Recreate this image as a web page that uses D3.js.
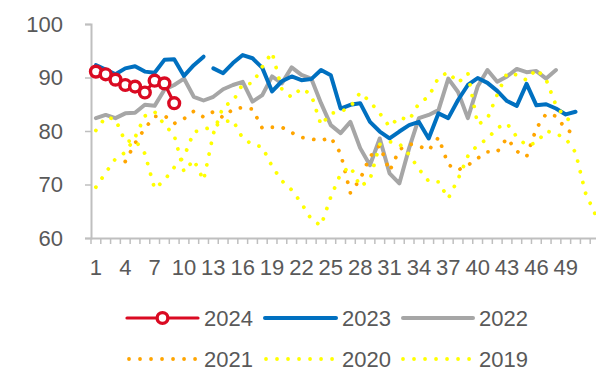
<!DOCTYPE html>
<html><head><meta charset="utf-8">
<script src="https://cdn.jsdelivr.net/npm/d3@7"></script>
<style>
html,body{margin:0;padding:0;background:#fff;}
svg{display:block;overflow:hidden;}
</style></head>
<body><svg id="c" width="596" height="372"></svg>
<script>
const weeks = d3.range(1, 53);
const xTickLabels = [1,4,7,10,13,16,19,22,25,28,31,34,37,40,43,46,49];
const yTicks = [60,70,80,90,100];
const seriesNames = ["2024","2023","2022","2021","2020","2019"];

const s2024 = [91.1,90.6,89.6,88.6,88.3,87.2,89.4,88.9,85.2];
const s2023 = [92.3,91.5,90.6,91.7,92.1,91.1,90.9,93.3,93.4,90.3,92.3,93.9,
  91.7,90.8,92.7,94.2,93.6,91.8,87.4,89.3,90.2,89.5,89.7,91.4,90.4,84.2,84.9,85.2,
  81.7,79.9,78.6,79.9,81.1,81.7,78.6,83.3,82.4,85.8,88.6,89.9,89.0,87.5,85.6,84.7,
  88.8,84.8,85.0,84.2,83.1,83.6];
const breaks2023 = [13]; // no segment drawn into week 13
const s2022 = [82.4,83.0,82.4,83.3,83.4,84.9,84.7,87.7,88.6,89.8,86.4,85.7,86.4,
  87.8,88.6,89.2,85.5,86.7,90.2,88.9,91.9,90.5,89.8,85.2,81.1,79.6,81.7,76.8,73.6,
  78.6,72.1,70.2,76.8,82.4,83.0,83.9,89.8,87.3,82.4,88.3,91.4,89.2,90.2,91.6,91.0,
  91.2,89.8,91.4];
const s2021 = [null,null,null,74.3,77.7,80.5,82.7,82.9,81.4,82.3,83.7,82.6,83.6,
  82.5,84.1,84.4,84.1,80.5,80.7,80.7,79.7,78.8,78.5,78.2,78.8,75.8,68.4,71.0,75.2,
  77.3,72.5,76.5,77.6,77.2,76.4,78.8,73.7,72.7,73.6,74.9,76.1,76.1,78.7,76.2,75.2,
  80.5,83.2,82.8,80.4,79.2];
const s2020 = [69.5,72.2,74.8,76.0,78.8,82.8,83.6,81.2,79.2,72.4,74.6,70.8,79.5,
  84.6,85.5,88.8,88.9,92.0,94.7,87.8,86.3,88.0,86.8,81.1,83.3,83.6,84.5,87.2,85.5,
  83.3,80.8,82.6,82.0,85.2,86.4,90.0,91.0,89.0,90.8,81.2,82.3,86.8,90.8,90.5,89.5,
  91.6,89.6,84.8,82.4,81.6];
const s2019 = [80.1,82.6,82.2,78.0,78.3,75.8,69.2,70.8,73.2,75.2,79.8,80.3,80.8,
  81.7,82.0,78.6,77.5,77.0,73.4,70.7,69.0,66.5,63.5,62.3,67.7,72.0,73.4,69.6,70.9,
  77.5,78.0,77.6,75.6,72.9,70.6,70.5,67.4,71.0,75.3,77.4,78.5,80.6,81.4,78.9,77.3,
  77.8,80.0,79.5,78.6,76.0,68.5,64.5];

const colors = {"2024":"#DA0A22","2023":"#0070C0","2022":"#A6A6A6","2021":"#FFA500","2020":"#FFFF00","2019":"#FFFF00"};
const font = "'Liberation Sans', Arial, sans-serif";
const txt = "#595959", axisCol = "#BFBFBF";

const svg = d3.select("#c");
const x = d3.scaleBand().domain(weeks).range([91, 600]).padding(0);
const cx = w => x(w) + x.bandwidth()/2;
const y = d3.scaleLinear().domain([60,100]).range([238,24]);

// y axis
const ya = svg.append("g").attr("transform","translate(91,0)")
  .call(d3.axisLeft(y).tickValues(yTicks).tickSize(6).tickPadding(22));
ya.select(".domain").attr("stroke",axisCol).attr("stroke-width",2);
ya.selectAll(".tick line").attr("stroke",axisCol).attr("stroke-width",1.5);
ya.selectAll("text").attr("font-family",font).attr("font-size",22).attr("fill",txt);

// x axis
const xa = svg.append("g").attr("transform","translate(0,238)")
  .call(d3.axisBottom(x).tickValues(xTickLabels).tickSize(0).tickPadding(21));
xa.select(".domain").attr("stroke",axisCol).attr("stroke-width",2);
xa.selectAll("text").attr("font-family",font).attr("font-size",22).attr("fill",txt);
svg.append("g").selectAll("line").data(weeks.concat([53])).join("line")
  .attr("x1",w => w<=52 ? x(w) : 600).attr("x2",w => w<=52 ? x(w) : 600)
  .attr("y1",238).attr("y2",244).attr("stroke",axisCol).attr("stroke-width",1.5);

const line = d3.line().defined(d => d.v != null).x(d => cx(d.w)).y(d => y(d.v));
const toPts = arr => arr.map((v,i) => ({w: i+1, v}));

function drawSeries(arr, color, opts, brks) {
  let pts = toPts(arr);
  let segs = [];
  if (brks && brks.length) {
    let start = 0;
    brks.forEach(b => { segs.push(pts.slice(start, b-1)); start = b-1; });
    segs.push(pts.slice(start));
  } else segs = [pts];
  segs.forEach(sg => {
    const p = svg.append("path").datum(sg).attr("d", line)
      .attr("fill","none").attr("stroke",color)
      .attr("stroke-width",opts.w).attr("stroke-linejoin","round").attr("stroke-linecap","round");
    if (opts.dot) p.attr("stroke-dasharray","0.01 11");
  });
}

drawSeries(s2022, colors["2022"], {w:4});
drawSeries(s2023, colors["2023"], {w:4}, breaks2023);
drawSeries(s2021, colors["2021"], {w:3.8, dot:true});
drawSeries(s2020, colors["2020"], {w:3.8, dot:true});
drawSeries(s2019, colors["2019"], {w:3.8, dot:true});
drawSeries(s2024, colors["2024"], {w:3.2});
svg.append("g").selectAll("circle").data(toPts(s2024)).join("circle")
  .attr("cx", d => cx(d.w)).attr("cy", d => y(d.v)).attr("r",5.4)
  .attr("fill","#fff").attr("stroke",colors["2024"]).attr("stroke-width",3.4);

// legend
const legendItems = [
  {name:"2024", x1:127, x2:198, tx:204, y:318, w:3.2, dot:false, marker:true},
  {name:"2023", x1:265, x2:336, tx:342, y:318, w:4, dot:false},
  {name:"2022", x1:403, x2:473, tx:479, y:318, w:4, dot:false},
  {name:"2021", x1:129, x2:196, tx:204, y:359, w:3.8, dot:true},
  {name:"2020", x1:266, x2:333, tx:342, y:359, w:3.8, dot:true},
  {name:"2019", x1:403, x2:470, tx:479, y:359, w:3.8, dot:true}
];
const lg = svg.append("g");
legendItems.forEach(it => {
  const l = lg.append("line").attr("x1",it.x1).attr("x2",it.x2).attr("y1",it.y).attr("y2",it.y)
    .attr("stroke",colors[it.name]).attr("stroke-width",it.w).attr("stroke-linecap","round");
  if (it.dot) l.attr("stroke-dasharray","0.01 11");
  if (it.marker) lg.append("circle").attr("cx",(it.x1+it.x2)/2).attr("cy",it.y).attr("r",5.4)
    .attr("fill","#fff").attr("stroke",colors[it.name]).attr("stroke-width",3.4);
  lg.append("text").attr("x",it.tx).attr("y",it.y).attr("dy","0.36em")
    .attr("font-family",font).attr("font-size",22).attr("fill",txt).text(it.name);
});
</script></body></html>
